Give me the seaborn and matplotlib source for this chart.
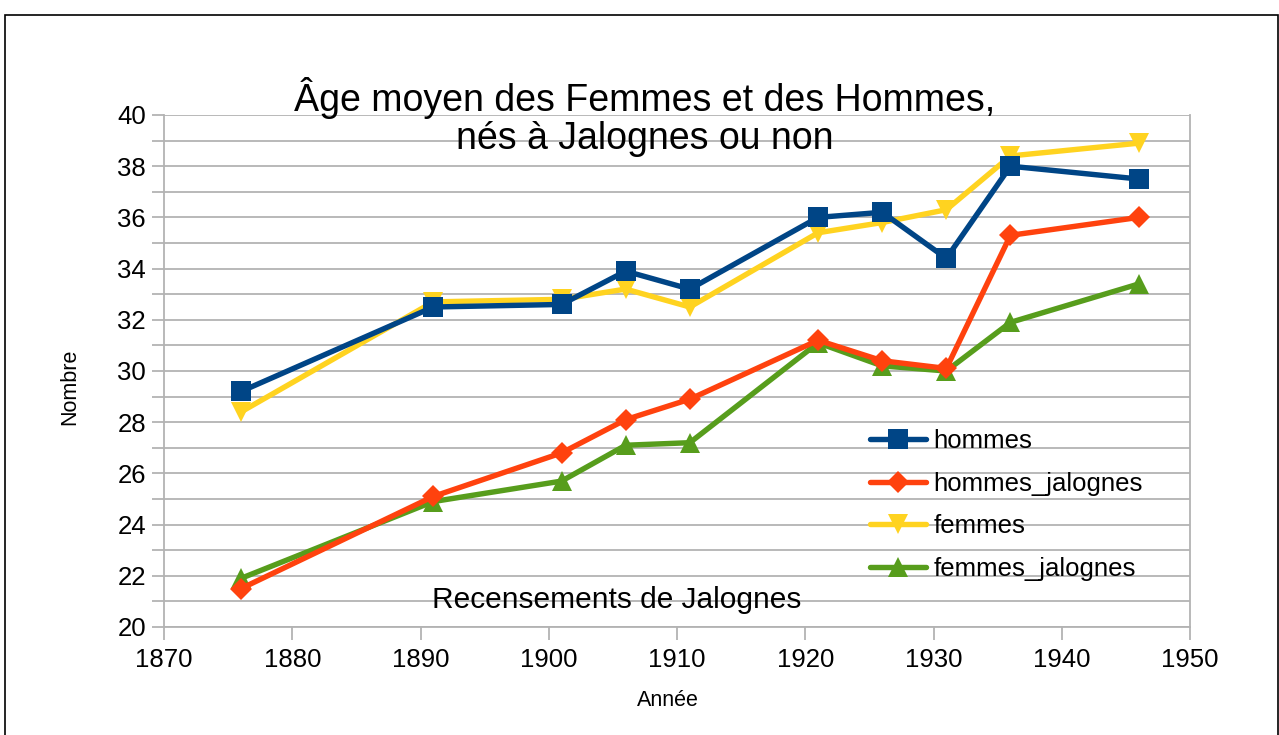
import matplotlib
matplotlib.use("Agg")
import matplotlib.pyplot as plt
import seaborn as sns
import pandas as pd
import numpy as np
from matplotlib.patches import Rectangle

years = [1876, 1891, 1901, 1906, 1911, 1921, 1926, 1931, 1936, 1946]
hommes = [29.2, 32.5, 32.6, 33.9, 33.2, 36.0, 36.2, 34.4, 38.0, 37.5]
hommes_jalognes = [21.5, 25.1, 26.8, 28.1, 28.9, 31.2, 30.4, 30.1, 35.3, 36.0]
femmes = [28.4, 32.7, 32.8, 33.2, 32.5, 35.4, 35.8, 36.3, 38.4, 38.9]
femmes_jalognes = [21.9, 24.9, 25.7, 27.1, 27.2, 31.1, 30.2, 30.0, 31.9, 33.4]

series_names = ["hommes", "hommes_jalognes", "femmes", "femmes_jalognes"]
series_values = [hommes, hommes_jalognes, femmes, femmes_jalognes]
colors = ["#004586", "#ff420e", "#ffd320", "#579d1c"]
markers = ["s", "D", "v", "^"]
msizes = [14, 11, 14, 14]

title = "Âge moyen des Femmes et des Hommes,\nnés à Jalognes ou non"
subtitle = "Recensements de Jalognes"
xlabel = "Année"
ylabel = "Nombre"

sns.set_theme(style="white")
plt.rcParams["font.family"] = ["Liberation Sans", "DejaVu Sans"]
plt.rcParams["text.color"] = "black"

fig = plt.figure(figsize=(12.79, 7.35), dpi=100)
ax = fig.add_axes([164 / 1279, 1 - 627 / 735, (1190 - 164) / 1279, (627 - 115) / 735])

# border of the chart
fig.patches.append(Rectangle((4.5 / 1279, -0.05), (1277.5 - 4.5) / 1279, 1.05 - 14.5 / 735,
                             transform=fig.transFigure, fill=False, edgecolor="black", linewidth=1.2))

df = pd.DataFrame({"year": years})
for name, vals in zip(series_names, series_values):
    df[name] = vals

zorders = {"hommes": 6, "hommes_jalognes": 5, "femmes": 4, "femmes_jalognes": 3}
for name, col, mk, ms in zip(series_names, colors, markers, msizes):
    sns.lineplot(data=df, x="year", y=name, ax=ax, color=col, linewidth=3.9,
                 marker=mk, markersize=ms, markeredgewidth=0, zorder=zorders[name], label=name)

ax.set_xlim(1870, 1950)
ax.set_ylim(20, 40)
ax.set_xticks(np.arange(1870, 1951, 10))
ax.set_yticks(np.arange(20, 41, 2))
ax.set_yticks(np.arange(21, 40, 2), minor=True)
ax.yaxis.grid(True, which="both", color="#b3b3b3", linewidth=1.3, zorder=0)
ax.xaxis.grid(False)
ax.set_axisbelow(True)
for s in ["left", "right", "bottom"]:
    ax.spines[s].set_color("#b3b3b3")
    ax.spines[s].set_linewidth(1.3)
ax.spines["top"].set_visible(False)
ax.tick_params(axis="both", which="both", direction="out", length=9, width=1.3,
               color="#b3b3b3", labelsize=18.5, labelcolor="black")
ax.tick_params(axis="x", pad=6, bottom=True)
ax.tick_params(axis="y", pad=4, left=True)
ax.tick_params(axis="y", which="minor", left=True, length=9)
ax.set_xlabel("")
ax.set_ylabel("")

leg = ax.legend(loc="upper left", bbox_to_anchor=((860 - 164) / 1026, 1 - (419 - 115) / 512),
                frameon=False, fontsize=18.5, handlelength=2.15, handletextpad=0.3,
                labelspacing=0.72, borderaxespad=0)
for t in leg.get_texts():
    t.set_color("black")

fig.text(645 / 1279, 1 - 117 / 735, title, ha="center", va="center", fontsize=27,
         linespacing=1.05, color="black")
fig.text(617 / 1279, 1 - 600 / 735, subtitle, ha="center", va="center", fontsize=21.5, color="black")
fig.text(668 / 1279, 1 - 700 / 735, xlabel, ha="center", va="center", fontsize=15.5, color="black")
fig.text(70 / 1279, 1 - 387 / 735, ylabel, ha="center", va="center", fontsize=15.5,
         rotation=90, color="black")

fig.savefig("out.png", dpi=100)
